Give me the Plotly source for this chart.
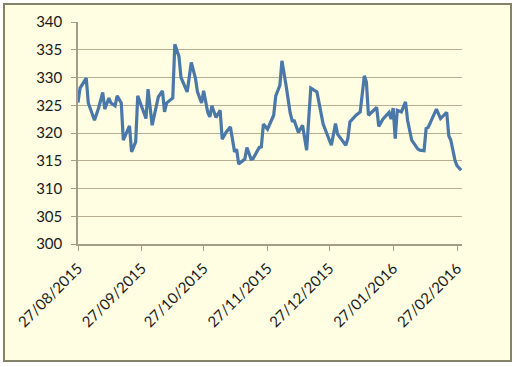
import plotly.graph_objects as go

dates = [
    "2015-08-27", "2015-08-28", "2015-08-31", "2015-09-01", "2015-09-04", "2015-09-06",
    "2015-09-08", "2015-09-09", "2015-09-11", "2015-09-12", "2015-09-14", "2015-09-15",
    "2015-09-17", "2015-09-18", "2015-09-21", "2015-09-22", "2015-09-24", "2015-09-25",
    "2015-09-29", "2015-09-30", "2015-10-02", "2015-10-05", "2015-10-07", "2015-10-08",
    "2015-10-09", "2015-10-12", "2015-10-13", "2015-10-15", "2015-10-16", "2015-10-19",
    "2015-10-21", "2015-10-23", "2015-10-24", "2015-10-26", "2015-10-27", "2015-10-29",
    "2015-10-30", "2015-10-31", "2015-11-02", "2015-11-04", "2015-11-05", "2015-11-07",
    "2015-11-09", "2015-11-11", "2015-11-12", "2015-11-13", "2015-11-16", "2015-11-17",
    "2015-11-19", "2015-11-20", "2015-11-23", "2015-11-24", "2015-11-25", "2015-11-27",
    "2015-11-30", "2015-12-01", "2015-12-03", "2015-12-04", "2015-12-06", "2015-12-08",
    "2015-12-09", "2015-12-10", "2015-12-12", "2015-12-14", "2015-12-16", "2015-12-18",
    "2015-12-21", "2015-12-24", "2015-12-28", "2015-12-30", "2015-12-31", "2016-01-04",
    "2016-01-05", "2016-01-06", "2016-01-09", "2016-01-11", "2016-01-13", "2016-01-14",
    "2016-01-15", "2016-01-19", "2016-01-20", "2016-01-22", "2016-01-25", "2016-01-26",
    "2016-01-27", "2016-01-28", "2016-01-29", "2016-01-31", "2016-02-02", "2016-02-03",
    "2016-02-05", "2016-02-08", "2016-02-09", "2016-02-11", "2016-02-12", "2016-02-13",
    "2016-02-17", "2016-02-19", "2016-02-22", "2016-02-23", "2016-02-24", "2016-02-26",
    "2016-02-27", "2016-02-29",
]
values = [
    325.5, 328.1, 329.9, 325.4, 322.3, 324.5,
    327.3, 324.3, 326.3, 325.4, 324.9, 326.7,
    325.4, 318.7, 321.3, 316.6, 318.4, 326.7,
    322.6, 327.9, 321.4, 326.5, 327.6, 323.8,
    325.4, 326.3, 336.0, 333.8, 330.0, 327.4,
    332.7, 329.9, 327.4, 325.4, 327.6, 323.7,
    322.9, 324.9, 322.8, 324.1, 318.9, 320.2,
    321.1, 316.6, 317.1, 314.4, 315.3, 317.4,
    315.3, 315.4, 317.4, 317.5, 321.6, 320.7,
    323.2, 326.7, 328.6, 333.0, 328.6, 323.6,
    322.2, 322.2, 320.1, 321.4, 316.9, 328.1,
    327.4, 321.6, 317.8, 321.7, 319.8, 317.8,
    319.0, 322.0, 323.2, 323.8, 330.3, 329.2,
    323.2, 324.6, 321.2, 322.5, 323.7, 322.5,
    324.5, 319.0, 324.1, 323.8, 325.6, 322.3,
    318.7, 317.1, 316.9, 316.8, 320.8, 321.0,
    324.3, 322.6, 323.7, 319.5, 318.7, 315.1,
    314.1, 313.3,
]
tick_dates = ["2015-08-27", "2015-09-27", "2015-10-27", "2015-11-27",
              "2015-12-27", "2016-01-27", "2016-02-27"]
tick_labels = ["27/08/2015", "27/09/2015", "27/10/2015", "27/11/2015",
               "27/12/2015", "27/01/2016", "27/02/2016"]
y_ticks = [300, 305, 310, 315, 320, 325, 330, 335, 340]

BG = "#FFFDE2"
GRID = "#B8AE90"
AXIS = "#A49E88"

fig = go.Figure()
fig.add_trace(go.Scatter(
    x=dates, y=values, mode="lines",
    line=dict(color="#4A78A8", width=3.2),
    hoverinfo="skip", showlegend=False,
))

fig.update_layout(
    width=517, height=367,
    margin=dict(l=78, r=55, t=22, b=123),
    paper_bgcolor="#FFFFFF",
    plot_bgcolor=BG,
    font=dict(family="Lato, 'Open Sans', sans-serif", size=15, color="#1A1A1A"),
    xaxis=dict(
        type="date",
        range=["2015-08-27", "2016-02-29 10:00"],
        tickmode="array", tickvals=tick_dates, ticktext=tick_labels,
        tickangle=-45,
        showgrid=False,
        showline=True, linecolor=AXIS, linewidth=1.5,
        ticks="outside", ticklen=5, tickcolor=AXIS, tickwidth=1,
        ticklabelstandoff=3,
        zeroline=False,
        tickfont=dict(size=15),
    ),
    yaxis=dict(
        range=[300, 340],
        tickmode="array", tickvals=y_ticks,
        showgrid=True, gridcolor=GRID, gridwidth=1.2,
        showline=True, linecolor=AXIS, linewidth=1.5,
        ticks="outside", ticklen=5, tickcolor=AXIS, tickwidth=1,
        ticklabelstandoff=6,
        zeroline=False,
        tickfont=dict(size=15),
    ),
    shapes=[dict(
        type="rect", xref="paper", yref="paper",
        x0=-(78 - 4) / 384, x1=1 + (511 - 462) / 384,
        y0=-(361 - 244) / 222, y1=1 + (22 - 4) / 222,
        line=dict(color="#85826C", width=2),
        fillcolor=BG, layer="below",
    )],
)

fig.write_html("out.html", config={"displayModeBar": False},
               post_script="document.body.style.margin='0';")
